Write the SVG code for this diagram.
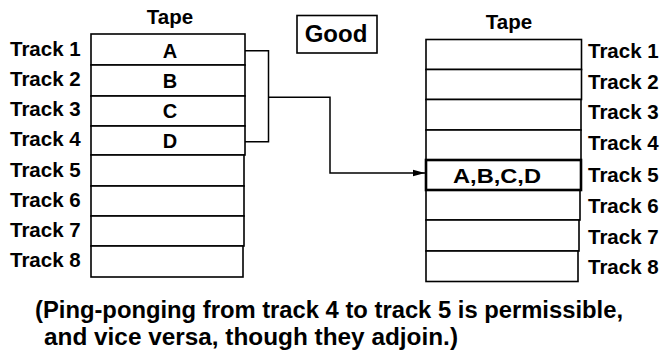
<svg xmlns="http://www.w3.org/2000/svg" width="663" height="353" viewBox="0 0 663 353">
  <style>
    text { font-family: "Liberation Sans", Arial, sans-serif; font-weight: bold; fill: #000; }
    .lbl { font-size: 20.5px; }
    .let { font-size: 20px; text-anchor: middle; }
    .mid { text-anchor: middle; }
    .cell { fill: #fff; stroke: #000; stroke-width: 1.6; }
    .hl { fill: #fff; stroke: #000; stroke-width: 2.6; }
    .conn { fill: none; stroke: #000; stroke-width: 1.5; }
  </style>
  <defs>
    <marker id="arr" markerWidth="12" markerHeight="8" refX="12" refY="4" orient="auto" markerUnits="userSpaceOnUse">
      <path d="M0,0.8 L12,4 L0,7.2 Z" fill="#000"/>
    </marker>
  </defs>
  <rect width="663" height="353" fill="#fff"/>

  <g id="left-tape">
    <text class="lbl mid" x="170" y="24">Tape</text>
    <rect class="cell" x="91" y="34" width="154" height="31"/>
    <rect class="cell" x="91" y="65" width="154" height="31"/>
    <rect class="cell" x="91" y="96" width="154" height="30"/>
    <rect class="cell" x="91" y="126" width="154" height="29"/>
    <rect class="cell" x="91" y="155" width="153" height="31"/>
    <rect class="cell" x="91" y="186" width="153" height="30"/>
    <rect class="cell" x="91" y="216" width="153" height="30"/>
    <rect class="cell" x="91" y="246" width="152" height="31"/>
    <text class="let" x="170" y="57.5">A</text>
    <text class="let" x="170" y="88">B</text>
    <text class="let" x="170" y="118">C</text>
    <text class="let" x="170" y="148">D</text>
    <text class="lbl" x="10" y="56">Track 1</text>
    <text class="lbl" x="10" y="86">Track 2</text>
    <text class="lbl" x="10" y="116">Track 3</text>
    <text class="lbl" x="10" y="146">Track 4</text>
    <text class="lbl" x="10" y="176.5">Track 5</text>
    <text class="lbl" x="10" y="206.5">Track 6</text>
    <text class="lbl" x="10" y="236.5">Track 7</text>
    <text class="lbl" x="10" y="266.5">Track 8</text>
  </g>

  <g id="good">
    <rect x="297" y="15.5" width="80" height="37.5" fill="#fff" stroke="#000" stroke-width="1.6"/>
    <text class="mid" x="336" y="42" style="font-size:24px">Good</text>
  </g>

  <g id="right-tape">
    <text class="lbl mid" x="509" y="28.5">Tape</text>
    <rect class="cell" x="426" y="39.5" width="155.5" height="30"/>
    <rect class="cell" x="426" y="69.5" width="155.5" height="30"/>
    <rect class="cell" x="426" y="99.5" width="155" height="30.5"/>
    <rect class="cell" x="426" y="130" width="155" height="30"/>
    <rect class="cell" x="426" y="190" width="154" height="30"/>
    <rect class="cell" x="426" y="220" width="153" height="31"/>
    <rect class="cell" x="426" y="251" width="152" height="30.5"/>
    <rect class="hl" x="426" y="160" width="155" height="30"/>
    <text class="mid" x="497" y="183" style="font-size:21px" textLength="88" lengthAdjust="spacingAndGlyphs">A,B,C,D</text>
    <text class="lbl" x="588" y="58">Track 1</text>
    <text class="lbl" x="588" y="88.5">Track 2</text>
    <text class="lbl" x="588" y="119">Track 3</text>
    <text class="lbl" x="588" y="150">Track 4</text>
    <text class="lbl" x="588" y="182">Track 5</text>
    <text class="lbl" x="588" y="213">Track 6</text>
    <text class="lbl" x="588" y="243.5">Track 7</text>
    <text class="lbl" x="588" y="274">Track 8</text>
  </g>

  <g id="connectors">
    <path class="conn" d="M245,50.7 H268.5 V141.7 H245"/>
    <path class="conn" d="M268.5,97.3 H330 V173 H425" marker-end="url(#arr)"/>
  </g>

  <g id="caption">
    <text x="35" y="318" style="font-size:23px" textLength="588" lengthAdjust="spacingAndGlyphs">(Ping-ponging from track 4 to track 5 is permissible,</text>
    <text x="44" y="345" style="font-size:23px" textLength="414" lengthAdjust="spacingAndGlyphs">and vice versa, though they adjoin.)</text>
  </g>
</svg>
